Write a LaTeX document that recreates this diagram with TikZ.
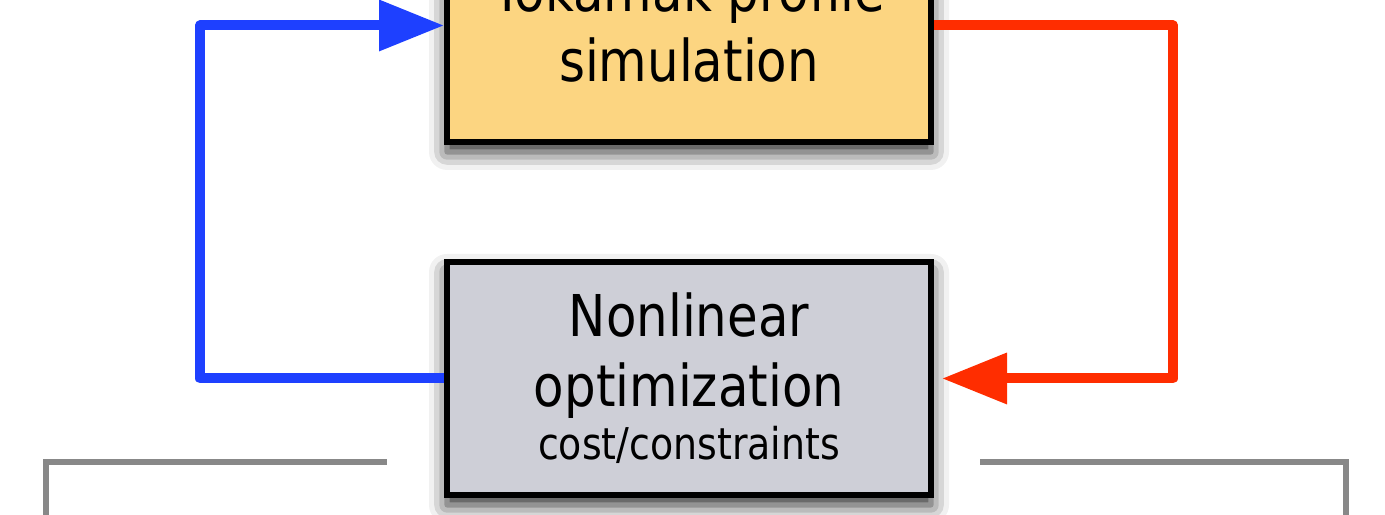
\documentclass[tikz,border=0pt]{standalone}
\usepackage{fontspec}
\newfontfamily\boxfont{DejaVu Sans}[FakeStretch=0.865]
\usetikzlibrary{arrows.meta,shadows.blur}

\definecolor{simfill}{RGB}{252,213,129}
\definecolor{optfill}{RGB}{206,207,215}
\definecolor{loopblue}{RGB}{30,64,255}
\definecolor{loopred}{RGB}{255,45,0}
\definecolor{framegray}{RGB}{136,136,136}

\tikzset{
  blockbox/.style={draw=black, line width=0.06cm, minimum width=4.84cm, minimum height=2.33cm,
    align=center, font={\boxfont\fontsize{16.4pt}{19.9pt}\selectfont},
    blur shadow={shadow xshift=0cm, shadow yshift=-0.1cm, shadow blur radius=0.18cm, shadow opacity=85}},
  loopline/.style={line width=0.1cm, line join=round, -{Triangle[length=0.65cm, width=0.49cm]}},
  frameline/.style={draw=framegray, line width=0.06cm}
}

\begin{document}
\begin{tikzpicture}
% Set the page size
\useasboundingbox (0, 0) rectangle (13.85, 5.15);
\clip (0, 0) rectangle (13.85, 5.15);

% The two blocks
\node[blockbox, fill=simfill] (sim) at (6.89, 4.895) {Tokamak profile\\simulation};
\node[blockbox, fill=optfill] (opt) at (6.89, 1.365)
  {Nonlinear\\optimization\\[-4.8pt]{\fontsize{12.46pt}{15pt}\selectfont cost/constraints}};

% Feedback loop
\draw[loopline, loopblue] (opt.west) -| ([xshift=-2.44cm]sim.west) -- (sim.west);
\draw[loopline, loopred, shorten >=0.08cm] (sim.east) -| ([xshift=2.39cm]opt.east) -- (opt.east);

% Outer frame
\draw[frameline] (0.46, -0.2) -- (0.46, 0.53) -- (3.87, 0.53);
\draw[frameline] (9.80, 0.53) -- (13.46, 0.53) -- (13.46, -0.2);
\end{tikzpicture}
\end{document}
